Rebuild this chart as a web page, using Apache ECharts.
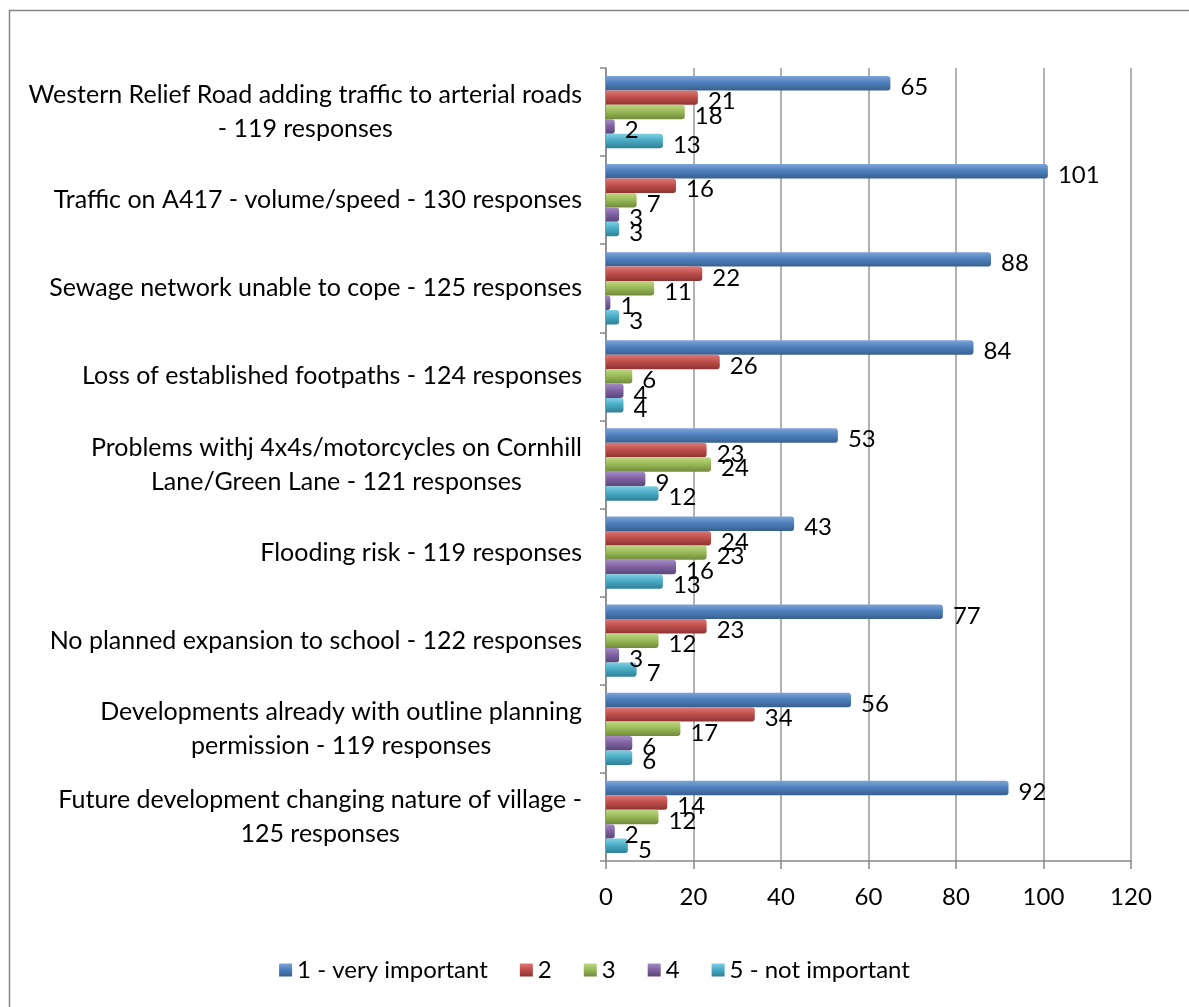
<!DOCTYPE html>
<html>
<head>
<meta charset="utf-8">
<script src="https://cdn.jsdelivr.net/npm/echarts@6/dist/echarts.min.js"></script>
<style>
html,body{margin:0;padding:0;background:#fff;}
#chart{width:1189px;height:1007px;}
</style>
</head>
<body>
<div id="chart"></div>
<script>
const categories = [
  "Western Relief Road adding traffic to arterial roads\n- 119 responses",
  "Traffic on A417 - volume/speed - 130 responses",
  "Sewage network unable to cope - 125 responses",
  "Loss of established footpaths - 124 responses",
  "Problems withj 4x4s/motorcycles on Cornhill\nLane/Green Lane - 121 responses",
  "Flooding risk - 119 responses",
  "No planned expansion to school - 122 responses",
  "Developments already with outline planning\npermission - 119 responses",
  "Future development changing nature of village -\n125 responses"
];
const seriesNames = ["1 - very important", "2", "3", "4", "5 - not important"];
const s1 = [65, 101, 88, 84, 53, 43, 77, 56, 92];
const s2 = [21, 16, 22, 26, 23, 24, 23, 34, 14];
const s3 = [18, 7, 11, 6, 24, 23, 12, 17, 12];
const s4 = [2, 3, 1, 4, 9, 16, 3, 6, 2];
const s5 = [13, 3, 3, 4, 12, 13, 7, 6, 5];
const xTicks = [0, 20, 40, 60, 80, 100, 120];

const colors = ["#4F81BD", "#C0504D", "#9BBB59", "#8064A2", "#4BACC6"];
const lighter = ["#7DA4D8", "#E07A77", "#BDD985", "#A58CC4", "#7FCFE3"];
const darker = ["#36608F", "#8F3331", "#718A3C", "#5B4577", "#2F8097"];
const allData = [s1, s2, s3, s4, s5];
const FONT = "Lato";
const FS = 24;

const chart = echarts.init(document.getElementById('chart'));
const series = allData.map((d, i) => ({
  name: seriesNames[i],
  type: 'bar',
  data: d,
  barGap: '0%',
  barCategoryGap: '18%',
  itemStyle: {
    color: new echarts.graphic.LinearGradient(0, 0, 0, 1, [
      {offset: 0, color: lighter[i]},
      {offset: 0.45, color: colors[i]},
      {offset: 1, color: darker[i]}
    ]),
    borderRadius: [0, 3, 3, 0]
  },
  label: {
    show: true,
    position: 'right',
    distance: 10,
    offset: [0, 4],
    color: '#000',
    fontFamily: FONT,
    fontSize: FS
  }
}));

chart.setOption({
  animation: false,
  color: colors,
  textStyle: {fontFamily: FONT},
  graphic: [{
    type: 'rect',
    shape: {x: 9.5, y: 10.5, width: 1300, height: 1200},
    style: {fill: 'none', stroke: '#888', lineWidth: 1.5},
    silent: true
  }],
  legend: {
    bottom: 20,
    left: 'center',
    itemWidth: 13,
    itemHeight: 13,
    itemGap: 32,
    icon: 'rect',
    textStyle: {fontFamily: FONT, fontSize: FS, color: '#000'},
    data: seriesNames
  },
  grid: {left: 606, right: 58, top: 68, bottom: 146, containLabel: false},
  xAxis: {
    type: 'value',
    min: 0, max: 120, interval: 20,
    axisLine: {show: true, lineStyle: {color: '#888', width: 1.5}},
    axisTick: {show: true, length: 8, lineStyle: {color: '#888', width: 1.5}},
    axisLabel: {
      fontFamily: FONT, fontSize: FS, color: '#000', margin: 24,
      formatter: v => xTicks.includes(v) ? String(v) : ''
    },
    splitLine: {show: true, lineStyle: {color: '#999', width: 1.5}}
  },
  yAxis: {
    type: 'category',
    inverse: true,
    data: categories,
    axisLine: {show: true, lineStyle: {color: '#888', width: 1.5}},
    axisTick: {show: true, length: 6, lineStyle: {color: '#888', width: 1.5}},
    axisLabel: {
      margin: 24,
      align: 'right',
      formatter: v => v.split('\n').map(l => '{c|' + l + '}').join('\n'),
      rich: {
        c: {align: 'center', fontFamily: FONT, fontSize: 25, color: '#000', lineHeight: 34}
      }
    }
  },
  series: series
});
</script>
</body>
</html>
